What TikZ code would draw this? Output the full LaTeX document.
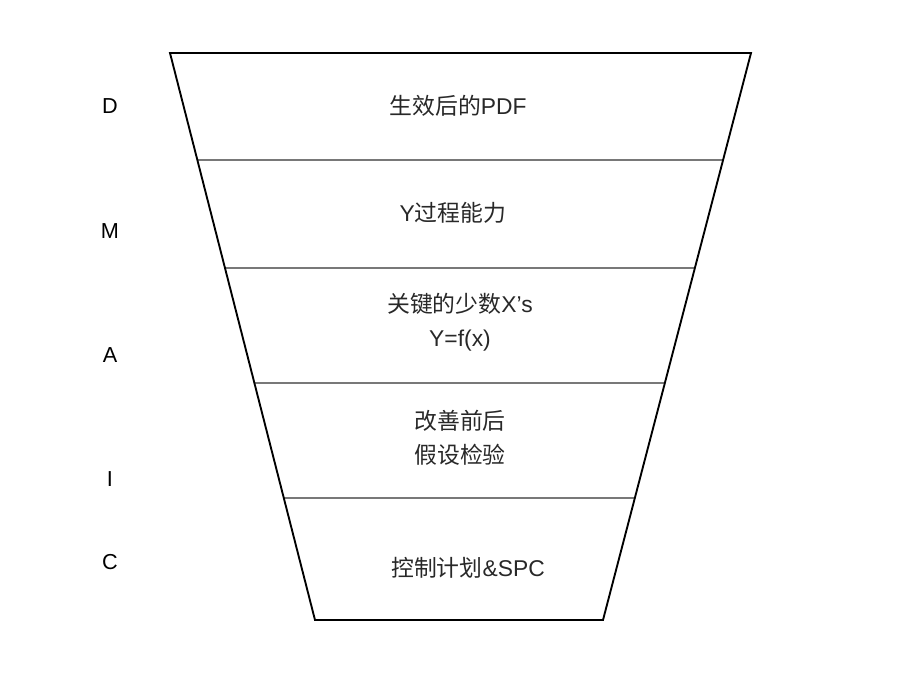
\documentclass[tikz,border=0pt]{standalone}
\usepackage{fontspec}
\setmainfont{Liberation Sans}
\newfontfamily\cjk{Noto Sans CJK SC}
\usetikzlibrary{calc}
\definecolor{sepgray}{RGB}{120,120,120}
\definecolor{txtgray}{RGB}{40,40,40}
\newcommand*{\PhaseColumn}[1]{% #1 = list of y/letter
\foreach \y/\letter in {#1} {
\node (ph\letter) [draw=none, font=\fontsize{18.5}{20}\selectfont]
at (110,\y) {\letter};
}%
}
\newcommand*{\CutLine}[2]{% #1 = name, #2 = fraction down the sides
\coordinate (#1l) at ($(tl)!#2!(bl)$);
\coordinate (#1r) at ($(tr)!#2!(br)$);
\draw [sepgray, line width=1pt] (#1l) -- (#1r);
}

\begin{document}
\begin{tikzpicture}[x=0.03cm, y=-0.03cm,
    stage/.style={draw=none, align=center, text=txtgray,
        font=\fontsize{19.5}{29}\selectfont}]

            \useasboundingbox (0,0) rectangle (920,690);
            \coordinate (tl) at (170,53);
            \coordinate (tr) at (751,53);
            \coordinate (br) at (603,620);
            \coordinate (bl) at (315,620);

            \CutLine{s1}{0.1887}
            \CutLine{s2}{0.3792}
            \CutLine{s3}{0.5820}
            \CutLine{s4}{0.7848}
            \draw [line width=1.6pt, line join=miter] (tl) -- (tr) -- (br) -- (bl) -- cycle;

            \node (define) [stage] at (458,106) {{\cjk 生效后的}PDF};
            \node (measure) [stage] at (453,213) {Y{\cjk 过程能力}};
            \node (analyze) [stage] at (460,322) {{\cjk 关键的少数}X’s\\Y=f(x)};
            \node (improve) [stage] at (460,438) {{\cjk 改善前后}\\{\cjk 假设检验}};
            \node (control) [stage] at (468,568) {{\cjk 控制计划}\&SPC};

            \PhaseColumn{106/D,231/M,355/A,479/I,562/C}

        \end{tikzpicture}
\end{document}
